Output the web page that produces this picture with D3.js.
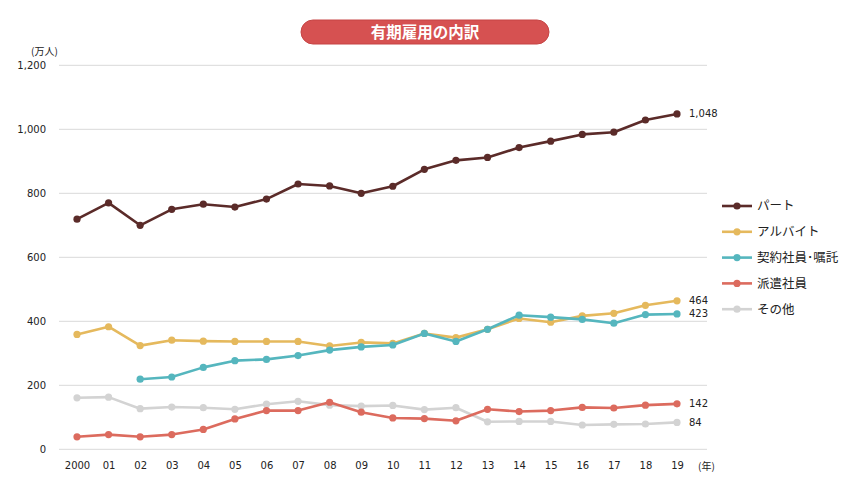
<!DOCTYPE html>
<html><head><meta charset="utf-8">
<script src="https://cdn.jsdelivr.net/npm/d3@7/dist/d3.min.js"></script>
<style>
body{margin:0;background:#fff;}
svg{display:block;}
</style></head>
<body><svg id="c" width="850" height="483"></svg>
<script>
const years = ["2000","01","02","03","04","05","06","07","08","09","10","11","12","13","14","15","16","17","18","19"];
const part    = [719,770,700,750,766,757,782,829,823,800,822,875,903,912,943,963,984,991,1029,1048];
const arbeit  = [359,383,324,341,338,337,337,337,323,334,331,362,349,375,409,397,417,425,450,464];
const keiyaku = [null,null,219,226,256,277,281,293,310,320,326,362,337,375,419,413,406,394,421,423];
const haken   = [39,46,39,46,62,95,121,121,147,116,98,96,89,125,118,121,131,129,138,142];
const sonota  = [161,163,127,132,130,125,141,150,138,135,137,124,130,86,87,87,76,78,79,84];
const yTicks  = [0,200,400,600,800,1000,1200];
const seriesNames = ["パート","アルバイト","契約社員･嘱託","派遣社員","その他"];
const seriesColors = ["#5b2b29","#e5b95d","#55b6be","#dc6b5e","#d3d3d3"];
const endLabels = ["1,048","464","423","142","84"];
const title = "有期雇用の内訳";

const seriesData = [part, arbeit, keiyaku, haken, sonota];
const svg = d3.select("#c");
const numFont = "'DejaVu Sans', Verdana, sans-serif";
const jpFont = "'Noto Sans CJK JP', sans-serif";

const x = d3.scalePoint().domain(years).range([77, 677]);
const y = d3.scaleLinear().domain([0, 1200]).range([449.3, 65.3]);

svg.append("g").selectAll("line").data(yTicks).join("line")
  .attr("x1", 59).attr("x2", 707)
  .attr("y1", d => y(d)).attr("y2", d => y(d))
  .attr("stroke", "#d9d9d9").attr("stroke-width", 1);

const yAxis = d3.axisLeft(y).tickValues(yTicks).tickSize(0).tickPadding(0)
  .tickFormat(d3.format(","));
const ya = svg.append("g").attr("transform", "translate(46,0)").call(yAxis);
ya.select(".domain").remove();
ya.selectAll("text").attr("font-family", numFont).attr("font-size", 10).attr("fill", "#222").attr("dy", "0.35em");

svg.append("text").attr("x", 31).attr("y", 55).text("(万人)")
  .attr("font-family", jpFont).attr("font-size", 10).attr("fill", "#222");

const xAxis = d3.axisBottom(x).tickSize(0).tickPadding(0);
const xa = svg.append("g").attr("transform", "translate(0,462)").call(xAxis);
xa.select(".domain").remove();
xa.selectAll("text").attr("font-family", numFont).attr("font-size", 10).attr("fill", "#222");
svg.append("text").attr("x", 698).attr("y", 470).text("(年)")
  .attr("font-family", jpFont).attr("font-size", 10).attr("fill", "#222");

const order = [4, 3, 1, 2, 0];
const line = d3.line().defined(d => d != null).x((d, i) => x(years[i])).y(d => y(d));
order.forEach(k => {
  const vals = seriesData[k];
  const g = svg.append("g");
  g.append("path").datum(vals).attr("d", line)
    .attr("fill", "none").attr("stroke", seriesColors[k]).attr("stroke-width", 2.6)
    .attr("stroke-linejoin", "round");
  g.selectAll("circle").data(vals.map((v, i) => ({v, i})).filter(d => d.v != null)).join("circle")
    .attr("cx", d => x(years[d.i])).attr("cy", d => y(d.v)).attr("r", 3.6)
    .attr("fill", seriesColors[k]);
});

seriesData.forEach((vals, k) => {
  const last = vals[vals.length - 1];
  svg.append("text").attr("x", 689).attr("y", y(last)).attr("dy", "0.35em")
    .text(endLabels[k]).attr("font-family", numFont).attr("font-size", 10).attr("fill", "#222");
});

const leg = svg.append("g");
seriesNames.forEach((n, k) => {
  const yy = 206 + k * 25.8;
  leg.append("line").attr("x1", 722).attr("x2", 752).attr("y1", yy).attr("y2", yy)
    .attr("stroke", seriesColors[k]).attr("stroke-width", 2.6);
  leg.append("circle").attr("cx", 737).attr("cy", yy).attr("r", 3.6).attr("fill", seriesColors[k]);
  leg.append("text").attr("x", 757).attr("y", yy).attr("dy", "0.35em").text(n)
    .attr("font-family", jpFont).attr("font-size", 12.5).attr("fill", "#222");
});

svg.append("rect").attr("x", 301).attr("y", 20).attr("width", 248).attr("height", 24).attr("rx", 12)
  .attr("fill", "#d65151").attr("stroke", "#c64545").attr("stroke-width", 1);
svg.append("text").attr("x", 425).attr("y", 32).attr("dy", "0.36em").attr("text-anchor", "middle")
  .text(title).attr("font-family", jpFont).attr("font-weight", "bold").attr("font-size", 15.5).attr("fill", "#fff");
</script>
</body></html>
